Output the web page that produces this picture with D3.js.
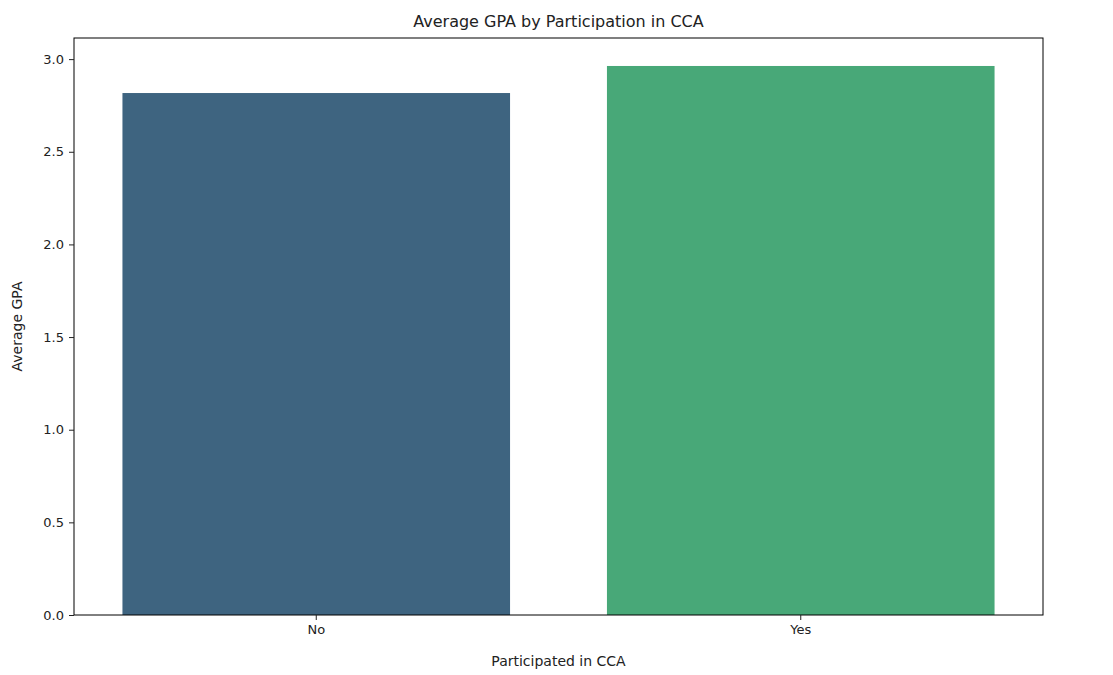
<!DOCTYPE html>
<html><head><meta charset="utf-8">
<script src="https://cdn.jsdelivr.net/npm/d3@7"></script>
<style>body{margin:0;background:#fff;font-family:"DejaVu Sans",sans-serif;}</style>
</head><body>
<svg id="chart" width="1113" height="675"></svg>
<script>
const categories = ["No", "Yes"];
const gpaValues = [2.817, 2.963];
const barColors = ["#3e6480", "#48a878"];
const yTicks = [0, 0.5, 1.0, 1.5, 2.0, 2.5, 3.0];

const svg = d3.select("#chart");
const m = { left: 74, right: 1043, top: 38, bottom: 615 };

const x = d3.scaleBand().domain(categories).range([m.left, m.right])
    .paddingInner(0.2).paddingOuter(0.1);
const y = d3.scaleLinear().domain([0, 3.114]).range([m.bottom, m.top]);

svg.append("g").selectAll("rect")
    .data(categories).enter().append("rect")
    .attr("x", d => x(d))
    .attr("width", x.bandwidth())
    .attr("y", (d, i) => y(gpaValues[i]))
    .attr("height", (d, i) => m.bottom - y(gpaValues[i]))
    .attr("fill", (d, i) => barColors[i]);

// frame
svg.append("rect").attr("x", m.left).attr("y", m.top)
    .attr("width", m.right - m.left).attr("height", m.bottom - m.top)
    .attr("fill", "none").attr("stroke", "#000").attr("stroke-width", 1);

const yAxis = svg.append("g").attr("transform", `translate(${m.left},0)`)
    .call(d3.axisLeft(y).tickValues(yTicks).tickFormat(d3.format(".1f")).tickSizeOuter(0).tickSize(5).tickPadding(5));
const xAxis = svg.append("g").attr("transform", `translate(0,${m.bottom})`)
    .call(d3.axisBottom(x).tickSizeOuter(0).tickSize(5).tickPadding(5));
[yAxis, xAxis].forEach(a => {
    a.select(".domain").remove();
    a.selectAll("text").attr("font-size", 13).attr("fill", "#222").attr("font-family", "DejaVu Sans");
    a.selectAll("line").attr("stroke", "#222");
});

svg.append("text").attr("x", (m.left + m.right) / 2).attr("y", 27)
    .attr("text-anchor", "middle").attr("font-size", 16).attr("fill", "#222")
    .text("Average GPA by Participation in CCA");
svg.append("text").attr("x", (m.left + m.right) / 2).attr("y", 666)
    .attr("text-anchor", "middle").attr("font-size", 14).attr("fill", "#222")
    .text("Participated in CCA");
svg.append("text").attr("transform", `translate(22,${(m.top + m.bottom) / 2}) rotate(-90)`)
    .attr("text-anchor", "middle").attr("font-size", 14).attr("fill", "#222")
    .text("Average GPA");
</script>
</body></html>
